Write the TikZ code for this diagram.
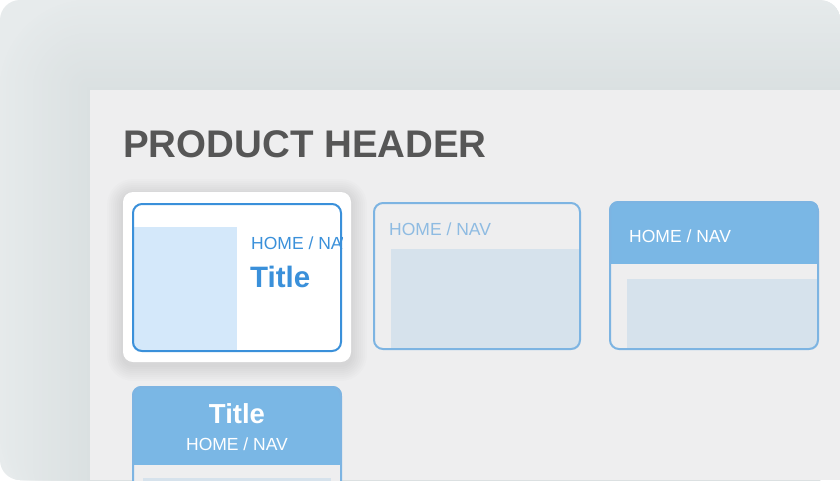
\documentclass[tikz,border=0pt]{standalone}
\usepackage{fontspec}
\setmainfont{Liberation Sans}
\usepackage{xcolor}
\usepackage{tikz}
\usetikzlibrary{positioning}

\definecolor{bgtop}{HTML}{E7EBEC}
\definecolor{bgedge}{HTML}{DAE0E1}
\definecolor{panelgrey}{HTML}{EEEEEF}
\definecolor{darktext}{HTML}{565656}
\definecolor{selblue}{HTML}{3A90DA}
\definecolor{paleblue}{HTML}{D4E8FA}
\definecolor{lineblue}{HTML}{7DB4E2}
\definecolor{headblue}{HTML}{7AB7E5}
\definecolor{fadetext}{HTML}{8EBBE2}
\definecolor{greyblue}{HTML}{D6E2EC}

\begin{document}
\begin{tikzpicture}[x=1pt,y=-1pt,
  card/.style={draw=lineblue, line width=2pt, rounded corners=9pt},
  navtext/.style={anchor=base west, inner sep=0pt, font=\fontsize{17.5}{18}\selectfont},
  titletext/.style={anchor=base west, inner sep=0pt, font=\bfseries\fontsize{29.5}{30}\selectfont}]
\useasboundingbox (0,0) rectangle (840,480);
\clip (0,0) rectangle (840,480);

% Background
\fill[white] (0,0) rectangle (840,480);
\begin{scope}
  \clip[rounded corners=20pt] (0,0) rectangle (840,480);
  \fill[bgtop] (0,0) rectangle (840,480);
  % soft shadow of the panel
  \foreach \i in {30,...,1} {
    \pgfmathtruncatemacro\mix{100-3*\i}
    \fill[bgedge!\mix!bgtop, rounded corners=3pt*\i] (90-3*\i,90-3*\i) rectangle (900,520);
  }
\end{scope}

% Panel
\fill[panelgrey] (90,90) rectangle (840,480);
\node[anchor=base west, inner sep=0pt, text=darktext,
  font=\bfseries\fontsize{38.5}{40}\selectfont] (header) at (123,157) {PRODUCT HEADER};

% Card 1 (selected)
\foreach \i in {2,4,...,16}
  \fill[black, opacity=0.012, rounded corners=10pt+\i pt] (123-\i,192-\i+3) rectangle (351+\i,362+\i+3);
\fill[white, rounded corners=10pt] (123,192) rectangle (351,362);
\begin{scope}
  \clip[rounded corners=9pt] (132,203) rectangle (342,352);
  \fill[white] (132,203) rectangle (342,352);
  \fill[paleblue] (132,227) rectangle (237,352);
  \node[navtext, text=selblue] (nav1) at (251,249) {HOME / NAV};
  \node[titletext, text=selblue] (title1) at (250,287) {Title};
\end{scope}
\draw[selblue, line width=2pt, rounded corners=9pt] (133,204) rectangle (341,351);

% Card 2 (outline)
\fill[panelgrey, rounded corners=9pt] (373,202) rectangle (581,350);
\begin{scope}
  \clip[rounded corners=9pt] (373,202) rectangle (581,350);
  \fill[greyblue] (391,249) rectangle (581,350);
  \node[navtext, text=fadetext] (nav2) at (389,235) {HOME / NAV};
\end{scope}
\draw[card] (374,203) rectangle (580,349);

% Card 3 (header bar)
\fill[panelgrey, rounded corners=9pt] (609,201) rectangle (819,350);
\begin{scope}
  \clip[rounded corners=9pt] (609,201) rectangle (819,350);
  \fill[headblue] (609,201) rectangle (819,264);
  \fill[greyblue] (627,279) rectangle (819,350);
  \node[navtext, text=white] (nav3) at (629,242) {HOME / NAV};
\end{scope}
\draw[card] (610,202) rectangle (818,349);

% Card 4 (centred header)
\fill[panelgrey, rounded corners=9pt] (132,386) rectangle (342,520);
\begin{scope}
  \clip[rounded corners=9pt] (132,386) rectangle (342,520);
  \fill[headblue] (132,386) rectangle (342,465);
  \fill[greyblue] (143,478) rectangle (331,520);
\end{scope}
\draw[card] (133,387) rectangle (341,519);
\node[inner sep=0pt, anchor=base, text=white, font=\bfseries\fontsize{27.5}{28}\selectfont] (title4) at (237,423) {Title};
\node[inner sep=0pt, anchor=base, text=white, font=\fontsize{17.5}{18}\selectfont] (nav4) at (237,450) {HOME / NAV};
\end{tikzpicture}
\end{document}
